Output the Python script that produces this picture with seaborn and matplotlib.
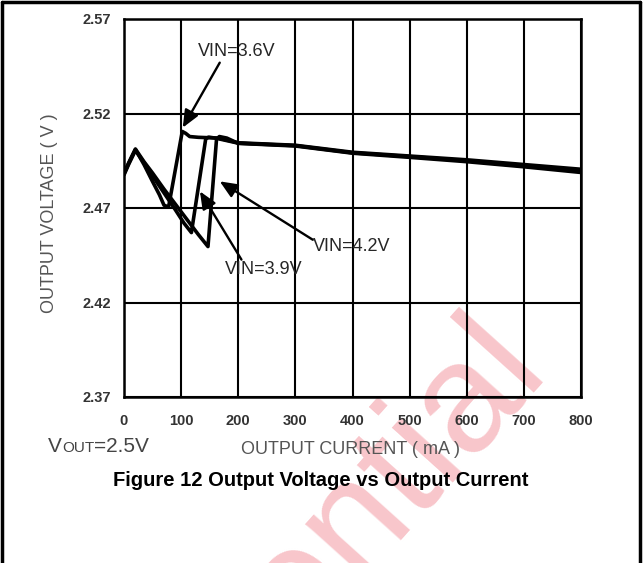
import numpy as np
import pandas as pd
import matplotlib
matplotlib.use("Agg")
import matplotlib.pyplot as plt
from matplotlib.lines import Line2D
import seaborn as sns

# Output current (mA) / output voltage (V) for each input voltage
current_36 = [0, 8, 20, 35, 50, 62, 70, 78, 102, 108, 115, 130, 165, 200, 300, 400, 500, 600, 700, 800]
volt_36 = [2.488, 2.4935, 2.501, 2.493, 2.484, 2.477, 2.4715, 2.4705, 2.5105, 2.5095, 2.5078, 2.5074,
           2.507, 2.5045, 2.5032, 2.4995, 2.4975, 2.4955, 2.493, 2.4905]

current_39 = [0, 8, 20, 35, 50, 70, 90, 105, 118, 143, 148, 160, 200, 300, 400, 500, 600, 700, 800]
volt_39 = [2.4875, 2.493, 2.5005, 2.494, 2.487, 2.478, 2.469, 2.462, 2.457, 2.5065, 2.5075, 2.507,
           2.5043, 2.503, 2.4992, 2.4972, 2.495, 2.4922, 2.4897]

current_42 = [0, 8, 20, 35, 50, 70, 90, 110, 130, 147, 162, 167, 180, 200, 300, 400, 500, 600, 700, 800]
volt_42 = [2.4885, 2.4938, 2.5012, 2.4945, 2.4885, 2.480, 2.472, 2.464, 2.456, 2.4496, 2.5065, 2.5078,
           2.507, 2.5042, 2.5028, 2.499, 2.4968, 2.4945, 2.4918, 2.4888]

x_ticks = [0, 100, 200, 300, 400, 500, 600, 700, 800]
y_ticks = [2.37, 2.42, 2.47, 2.52, 2.57]
y_tick_labels = ["2.37", "2.42", "2.47", "2.52", "2.57"]

series_names = ["VIN=3.6V", "VIN=3.9V", "VIN=4.2V"]


def build_frame():
    frames = []
    for name, cur, volt in zip(series_names, [current_36, current_39, current_42],
                               [volt_36, volt_39, volt_42]):
        frames.append(pd.DataFrame({"current": cur, "voltage": volt, "series": name}))
    return pd.concat(frames, ignore_index=True)


def px_to_fig(x, y):
    return x / 643, 1 - y / 563


def main():
    df = build_frame()

    sns.set_theme(style="white")
    plt.rcParams["font.family"] = ["Liberation Sans", "DejaVu Sans"]

    fig = plt.figure(figsize=(6.43, 5.63), dpi=100)
    fig.patch.set_facecolor("white")
    ax = fig.add_axes([124 / 643, 1 - 397 / 563, (581 - 124) / 643, (397 - 19) / 563])
    ax.set_facecolor("none")

    # watermark behind everything
    wx, wy = px_to_fig(548, 368)
    fig.text(wx, wy, "Confidential", fontsize=112, color="#f8c6cb", rotation=48,
             rotation_mode="anchor", ha="right", va="baseline", zorder=-5)

    sns.lineplot(data=df, x="current", y="voltage", hue="series", units="series",
                 estimator=None, sort=False, palette=["black"] * 3, lw=2.6,
                 legend=False, ax=ax)

    ax.set_xlim(0, 800)
    ax.set_ylim(2.37, 2.57)
    ax.set_xticks(x_ticks)
    ax.set_yticks(y_ticks)
    ax.set_yticklabels(y_tick_labels)
    ax.grid(True, color="black", lw=1.5)
    for s in ax.spines.values():
        s.set_color("black")
        s.set_linewidth(1.8)
        s.set_visible(True)
    ax.tick_params(length=0)
    ax.tick_params(axis="y", pad=9)
    ax.tick_params(axis="x", pad=12)
    for lab in ax.get_xticklabels() + ax.get_yticklabels():
        lab.set_fontweight("bold")
        lab.set_fontsize(10.5)
        lab.set_color("#333333")
    ax.set_xlabel("")
    ax.set_ylabel("")

    # annotations
    arrow = dict(arrowstyle="-|>,head_length=0.7,head_width=0.3", color="black", lw=1.7,
                 shrinkA=0, shrinkB=0, mutation_scale=15)
    ax.annotate("", xy=(102.8, 2.5125), xytext=(167.6, 2.5469), arrowprops=arrow)
    ax.annotate("", xy=(132.9, 2.4788), xytext=(205.6, 2.4427), arrowprops=arrow)
    ax.annotate("", xy=(167.6, 2.4841), xytext=(330.5, 2.4532), arrowprops=arrow)
    ax.text(129, 2.5527, "VIN=3.6V", fontsize=13, va="center", ha="left")
    ax.text(176.3, 2.4374, "VIN=3.9V", fontsize=13, va="center", ha="left")
    ax.text(330.5, 2.4496, "VIN=4.2V", fontsize=13, va="center", ha="left")

    # axis titles
    x, y = px_to_fig(50, 213)
    fig.text(x, y, "OUTPUT VOLTAGE ( V )", rotation=90, ha="center", va="center",
             fontsize=13, color="#555555")
    x, y = px_to_fig(350.5, 450)
    fig.text(x, y, "OUTPUT CURRENT ( mA )", ha="center", va="center",
             fontsize=13, color="#555555")

    # VOUT=2.5V with small caps
    fig.canvas.draw()
    renderer = fig.canvas.get_renderer()
    x0, y0 = px_to_fig(48, 452)
    pieces = [("V", 15), ("OUT", 11), ("=2.5V", 15)]
    xpos = x0
    for txt, size in pieces:
        t = fig.text(xpos, y0, txt, fontsize=size, color="#444444", ha="left", va="baseline")
        bb = t.get_window_extent(renderer=renderer)
        xpos += bb.width / fig.bbox.width

    x, y = px_to_fig(321, 480)
    fig.text(x, y, "Figure 12 Output Voltage vs Output Current", ha="center", va="center",
             fontsize=14.5, fontweight="bold", color="black")

    # page frame (no bottom edge)
    for xs, ys in [((2, 2), (563, 2)), ((2, 640), (2, 2)), ((640, 640), (2, 563))]:
        fx = [v / 643 for v in xs]
        fy = [1 - v / 563 for v in ys]
        fig.add_artist(Line2D(fx, fy, color="black", lw=2.5, transform=fig.transFigure))

    fig.savefig("out.png", dpi=100)


if __name__ == "__main__":
    main()
